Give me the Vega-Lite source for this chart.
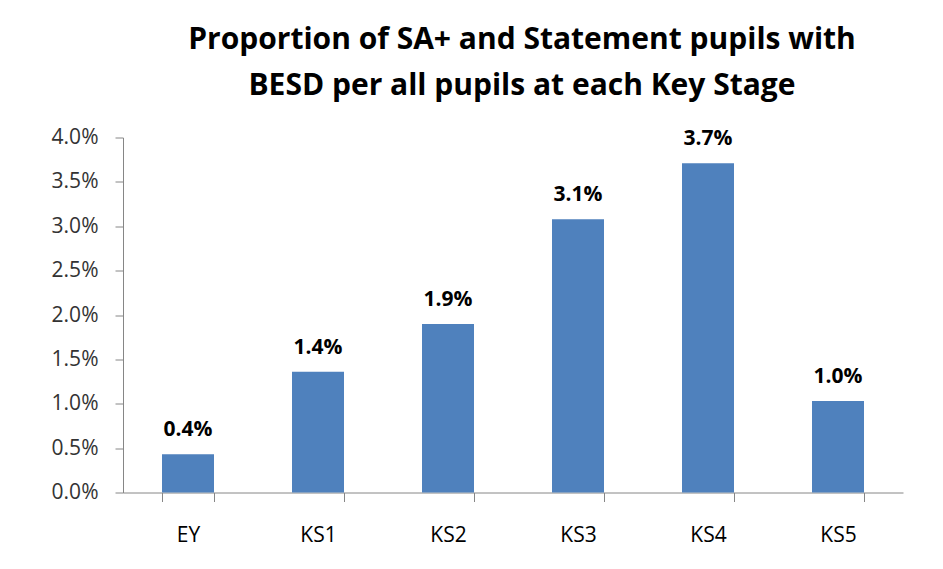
{
  "$schema": "https://vega.github.io/schema/vega-lite/v6.json",
  "width": 780,
  "height": 355,
  "autosize": {"type": "none"},
  "padding": {"left": 123, "top": 137.5, "right": 40, "bottom": 76.5},
  "background": "white",
  "title": {
    "text": ["Proportion of SA+ and Statement pupils with", "BESD per all pupils at each Key Stage"],
    "font": "Open Sans",
    "fontSize": 30,
    "fontWeight": "bold",
    "color": "#000000",
    "lineHeight": 46,
    "anchor": "middle",
    "frame": "group",
    "baseline": "bottom",
    "offset": 0,
    "dy": 4,
    "dx": 9
  },
  "data": {
    "values": [
      {"stage": "EY", "value": 0.0043},
      {"stage": "KS1", "value": 0.0136},
      {"stage": "KS2", "value": 0.0190},
      {"stage": "KS3", "value": 0.0308},
      {"stage": "KS4", "value": 0.0371},
      {"stage": "KS5", "value": 0.0103}
    ]
  },
  "encoding": {
    "x": {
      "field": "stage",
      "type": "nominal",
      "sort": null,
      "title": null,
      "scale": {"paddingInner": 0.6, "paddingOuter": 0.3},
      "axis": {
        "labelAngle": 0,
        "labelFont": "Open Sans",
        "labelFontSize": 21,
        "labelColor": "#000000",
        "labelPadding": 23,
        "tickBand": "extent",
        "tickSize": 9,
        "tickColor": "#868686",
        "domainColor": "#868686",
        "labelBaseline": "top"
      }
    },
    "y": {
      "field": "value",
      "type": "quantitative",
      "title": null,
      "scale": {"domain": [0, 0.04], "nice": false},
      "axis": {
        "values": [0, 0.005, 0.01, 0.015, 0.02, 0.025, 0.03, 0.035, 0.04],
        "format": ".1%",
        "labelFont": "Open Sans",
        "labelFontSize": 21,
        "labelColor": "#333333",
        "labelPadding": 17,
        "tickSize": 8,
        "tickColor": "#868686",
        "domainColor": "#868686",
        "grid": false
      }
    }
  },
  "layer": [
    {"mark": {"type": "bar", "color": "#4F81BD"}},
    {
      "mark": {"type": "text", "font": "Open Sans", "fontSize": 21, "fontWeight": "bold", "color": "#000000", "baseline": "alphabetic", "dy": -18},
      "encoding": {"text": {"field": "value", "type": "quantitative", "format": ".1%"}}
    }
  ],
  "config": {"view": {"stroke": null}}
}
